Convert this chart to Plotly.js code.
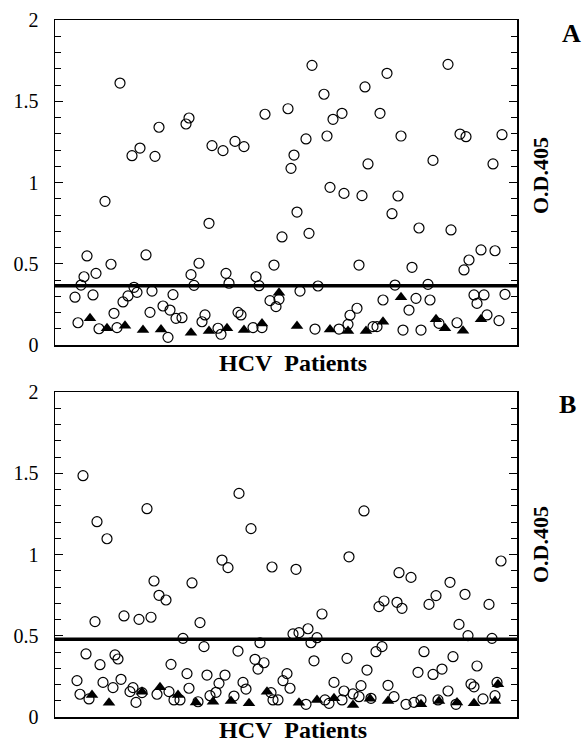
<!DOCTYPE html>
<html>
<head>
<meta charset="utf-8">
<script src="https://cdn.plot.ly/plotly-3.0.1.min.js"></script>
<style>html,body{margin:0;padding:0;background:#fff;}#chart{width:583px;height:744px;}</style>
</head>
<body>
<div id="chart"></div>
<script>
// Panel A: HCV patients (open circles) and controls (filled triangles); x = patient position
const aCircleX = [20,23,26,29,32,38,41,44,50,56,59,62,65,68,73,77,79,82,85,91,95,97,100,104,108,113,115,118,121,127,131,134,136,139,144,147,150,157,154,168,163,166,171,174,180,183,186,189,198,201,204,207,210,215,219,221,224,227,233,236,239,242,245,251,254,257,260,263,269,272,275,278,284,287,289,293,295,302,304,307,310,313,318,322,325,328,332,337,340,343,346,348,354,357,361,364,366,373,375,378,384,393,396,402,405,409,411,414,419,422,426,429,432,438,440,444,447,450];
const aCircleY = [0.294,0.137,0.369,0.42,0.548,0.308,0.441,0.100,0.884,0.497,0.195,0.107,1.612,0.265,0.302,1.165,0.355,0.324,1.212,0.554,0.201,0.332,1.161,1.340,0.240,0.047,0.215,0.310,0.164,0.168,1.360,1.397,0.433,0.367,0.503,0.143,0.185,1.227,0.749,1.196,0.103,0.066,0.441,0.380,1.253,0.201,0.185,1.221,0.107,0.420,0.365,0.107,1.420,0.273,0.492,0.236,0.281,0.665,1.454,1.087,1.169,0.818,0.332,1.268,0.687,1.721,0.098,0.363,1.543,1.286,0.970,1.389,0.098,1.426,0.933,0.127,0.183,0.226,0.492,0.919,1.588,1.114,0.113,0.113,1.426,0.277,1.672,0.808,0.369,0.917,1.286,0.092,0.215,0.478,0.287,0.720,0.092,0.373,0.277,1.136,0.133,1.727,0.708,0.137,1.298,0.462,1.282,0.523,0.308,0.256,0.585,0.308,0.185,1.114,0.580,0.150,1.294,0.312];
const aTriX = [35,52,70,88,106,136,154,172,189,207,224,242,275,293,311,328,346,381,390,408,426];
const aTriY = [0.164,0.103,0.119,0.092,0.096,0.076,0.086,0.103,0.092,0.133,0.322,0.117,0.096,0.086,0.086,0.143,0.294,0.158,0.103,0.088,0.158];
const aCutoff = 0.365;

// Panel B
const bCircleX = [22,25,28,31,34,40,42,45,48,52,58,60,63,66,69,75,78,81,84,87,92,96,99,102,104,111,114,116,119,125,128,132,134,137,143,145,149,152,155,161,164,167,170,173,179,183,184,188,191,196,200,203,205,209,216,217,218,223,228,232,235,238,241,244,251,253,256,259,262,267,270,274,279,287,289,292,294,298,304,306,309,312,316,321,324,327,329,333,339,342,344,347,351,356,359,363,366,369,374,378,381,383,387,393,395,398,401,404,410,413,416,419,422,428,434,437,440,442,446];
const bCircleY = [0.224,0.140,1.485,0.388,0.111,0.587,1.202,0.322,0.213,1.097,0.181,0.382,0.357,0.232,0.622,0.156,0.181,0.090,0.601,0.150,1.282,0.614,0.837,0.140,0.749,0.720,0.156,0.324,0.105,0.105,0.484,0.267,0.177,0.825,0.094,0.581,0.433,0.258,0.131,0.152,0.207,0.966,0.258,0.919,0.129,0.406,1.376,0.213,0.172,1.159,0.355,0.295,0.457,0.334,0.150,0.923,0.105,0.105,0.224,0.267,0.177,0.511,0.909,0.519,0.078,0.543,0.457,0.346,0.488,0.634,0.105,0.084,0.213,0.105,0.160,0.361,0.986,0.142,0.125,0.193,1.268,0.289,0.115,0.402,0.679,0.433,0.714,0.195,0.125,0.706,0.888,0.669,0.078,0.859,0.090,0.275,0.105,0.402,0.693,0.262,0.747,0.105,0.295,0.160,0.829,0.371,0.078,0.570,0.755,0.501,0.203,0.186,0.314,0.111,0.693,0.484,0.131,0.213,0.960];
const bTriX = [37,54,87,105,123,141,158,176,194,212,244,262,279,298,315,333,366,384,402,419,440,443];
const bTriY = [0.135,0.088,0.156,0.183,0.135,0.090,0.094,0.098,0.084,0.156,0.088,0.105,0.115,0.074,0.113,0.098,0.078,0.098,0.090,0.084,0.098,0.201];
const bCutoff = 0.478;

const yTickVals = [0, 0.5, 1, 1.5, 2];
const yTickText = ['0', '0.5', '1', '1.5', '2'];
const yTitle = 'O.D.405';
const xTitle = 'HCV\u00a0\u00a0Patients';
const panelLabels = ['A', 'B'];

const serif = 'Liberation Serif';
const W = 583, H = 744;
const px = v => v / W, py = v => 1 - v / H;
const xDom = [px(55), px(517)];
const domA = [py(345), py(20)];
const domB = [py(717), py(392)];

function circ(x, y, xa, ya) {
  return {x, y, xaxis: xa, yaxis: ya, type: 'scatter', mode: 'markers', hoverinfo: 'skip',
    marker: {symbol: 'circle-open', size: 10, color: '#000', line: {width: 1.2, color: '#000'}}};
}
function tri(x, y, xa, ya) {
  return {x, y, xaxis: xa, yaxis: ya, type: 'scatter', mode: 'markers', hoverinfo: 'skip',
    marker: {symbol: 'triangle-up', size: 11, color: '#000', line: {width: 0}}};
}
const traces = [
  circ(aCircleX, aCircleY, 'x', 'y'), tri(aTriX, aTriY, 'x', 'y'),
  circ(bCircleX, bCircleY, 'x2', 'y2'), tri(bTriX, bTriY, 'x2', 'y2')
];

function xaxisDef(anchor) {
  return {domain: xDom, anchor, range: [0, 462], showticklabels: false, ticks: '',
    showline: true, linecolor: '#000', linewidth: 1.5, mirror: true,
    showgrid: false, zeroline: false, fixedrange: true};
}
function yaxisDef(dom, anchor) {
  return {domain: dom, anchor, range: [0, 2], tickvals: yTickVals, ticktext: yTickText,
    ticks: 'inside', ticklen: 8, tickwidth: 1, tickcolor: '#000',
    minor: {dtick: 0.1, ticks: 'inside', ticklen: 6, tickwidth: 1, tickcolor: '#000', showgrid: false},
    showline: true, linecolor: '#000', linewidth: 1.5, mirror: 'ticks',
    showgrid: false, zeroline: false, ticklabelstandoff: 11,
    tickfont: {family: serif, size: 20, color: '#000'}, fixedrange: true};
}

const layout = {
  width: W, height: H, margin: {l: 0, r: 0, t: 0, b: 0},
  paper_bgcolor: '#fff', plot_bgcolor: '#fff', showlegend: false,
  font: {family: serif, color: '#000'},
  xaxis: xaxisDef('y'), yaxis: yaxisDef(domA, 'x'),
  xaxis2: xaxisDef('y2'), yaxis2: yaxisDef(domB, 'x2'),
  shapes: [
    {type: 'line', xref: 'x domain', yref: 'y', x0: 0, x1: 1, y0: aCutoff, y1: aCutoff, line: {color: '#000', width: 3.5}},
    {type: 'line', xref: 'x2 domain', yref: 'y2', x0: 0, x1: 1, y0: bCutoff, y1: bCutoff, line: {color: '#000', width: 3.5}}
  ],
  annotations: [
    {text: xTitle, xref: 'paper', yref: 'paper', x: px(293), y: py(363), showarrow: false, xanchor: 'center', yanchor: 'middle',
      font: {family: serif, size: 24, color: '#000', weight: 'bold'}},
    {text: xTitle, xref: 'paper', yref: 'paper', x: px(293), y: 0, showarrow: false, xanchor: 'center', yanchor: 'bottom', borderpad: 0,
      font: {family: serif, size: 24, color: '#000', weight: 'bold'}},
    {text: yTitle, xref: 'paper', yref: 'paper', x: px(540), y: py(176), textangle: -90, showarrow: false, xanchor: 'center', yanchor: 'middle',
      font: {family: serif, size: 22, color: '#000', weight: 'bold'}},
    {text: yTitle, xref: 'paper', yref: 'paper', x: px(540), y: py(545), textangle: -90, showarrow: false, xanchor: 'center', yanchor: 'middle',
      font: {family: serif, size: 22, color: '#000', weight: 'bold'}},
    {text: panelLabels[0], xref: 'paper', yref: 'paper', x: px(571), y: py(34), showarrow: false, xanchor: 'center', yanchor: 'middle',
      font: {family: serif, size: 26, color: '#000', weight: 'bold'}},
    {text: panelLabels[1], xref: 'paper', yref: 'paper', x: px(567), y: py(404), showarrow: false, xanchor: 'center', yanchor: 'middle',
      font: {family: serif, size: 26, color: '#000', weight: 'bold'}}
  ]
};

Plotly.newPlot('chart', traces, layout, {staticPlot: true, displayModeBar: false});
</script>
</body>
</html>
